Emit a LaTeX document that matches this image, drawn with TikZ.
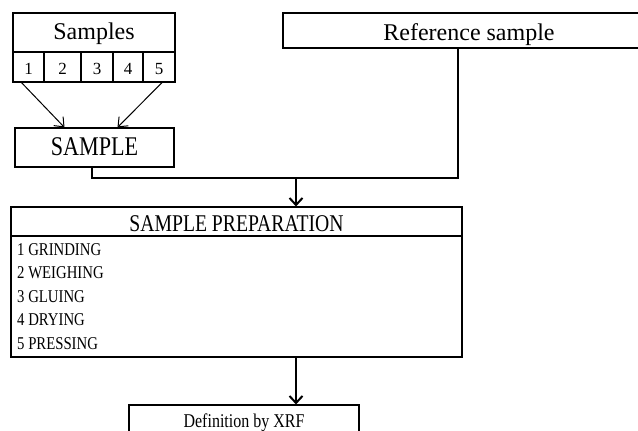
\documentclass[tikz,border=0pt]{standalone}
\usepackage{fontspec}
\setmainfont{Liberation Serif}
\newfontfamily\condfont[FakeStretch=0.82]{Liberation Serif}
\usetikzlibrary{arrows.meta}
\tikzset{
  box/.style={draw, line width=1.1pt, inner sep=0pt, rectangle},
  lbl/.style={inner sep=0pt, anchor=base},
  item/.style={inner sep=0pt, anchor=base west, font=\condfont\fontsize{18}{21}\selectfont},
  thin arrow/.style={line width=1pt, -{Straight Barb[length=8pt, width=13pt]}},
  thick arrow/.style={line width=2pt, -{Straight Barb[length=7pt, width=13pt, line width=2pt]}},
  link/.style={line width=1.2pt}
}
\begin{document}
\begin{tikzpicture}[x=1pt, y=-1pt]
\useasboundingbox (0,0) rectangle (638,431);
\clip (0,0) rectangle (638,431);

% Samples header and its five numbered cells
\node[box, minimum width=162pt, minimum height=39pt] (samples) at (94,32.5) {};
\node[lbl, font=\fontsize{24}{28}\selectfont] (samplestxt) at (94,39) {Samples};
\node[box, minimum width=31pt, minimum height=30pt] (c1) at (28.5,67) {};
\node[box, minimum width=37pt, minimum height=30pt] (c2) at (62.5,67) {};
\node[box, minimum width=32pt, minimum height=30pt] (c3) at (97,67) {};
\node[box, minimum width=30pt, minimum height=30pt] (c4) at (128,67) {};
\node[box, minimum width=32pt, minimum height=30pt] (c5) at (159,67) {};
\foreach \i/\x in {1/28.5,2/62.5,3/97,4/128,5/159}
  \node[lbl, font=\fontsize{17}{20}\selectfont] (n\i) at (\x,74) {\i};

% Combined sample
\node[box, minimum width=159pt, minimum height=39pt] (sample) at (94.5,147.5) {};
\node[lbl, font=\condfont\fontsize{27}{31}\selectfont] (sampletxt) at (94.5,155) {SAMPLE};

% Reference sample (runs past the right edge)
\node[box, minimum width=372pt, minimum height=35pt] (ref) at (469,30.5) {};
\node[lbl, font=\fontsize{24}{28}\selectfont] (reftxt) at (469,40) {Reference sample};

% Sample preparation block
\node[box, minimum width=451pt, minimum height=29pt] (prep) at (236.5,221.5) {};
\node[lbl, font=\condfont\fontsize{24}{28}\selectfont] (preptxt) at (236.5,231) {SAMPLE PREPARATION};
\node[box, minimum width=451pt, minimum height=121pt] (steps) at (236.5,296.5) {};
\node[item] (s1) at (17,255) {1 GRINDING};
\node[item] (s2) at (17,278.5) {2 WEIGHING};
\node[item] (s3) at (17,302) {3 GLUING};
\node[item] (s4) at (17,325.5) {4 DRYING};
\node[item] (s5) at (17,349) {5 PRESSING};

% XRF determination
\node[box, minimum width=230pt, minimum height=44pt] (xrf) at (244,427) {};
\node[lbl, font=\condfont\fontsize{19.5}{23}\selectfont] (xrftxt) at (244,427) {Definition by XRF};

% Connectors
\coordinate (join) at (296,178);
\draw[thin arrow] (c1.south west) ++(9pt,0) -- ([xshift=-30pt]sample.north);
\draw[thin arrow] (c5.south) ++(3pt,0) -- ([xshift=23pt]sample.north);
\draw[link] ([xshift=-2.5pt]sample.south) |- (join);
\draw[link] (ref.south -| 458,0) |- (join);
\draw[thick arrow] (join) -- (prep.north -| join);
\draw[thick arrow] (steps.south -| join) -- (xrf.north -| join);
\end{tikzpicture}
\end{document}
